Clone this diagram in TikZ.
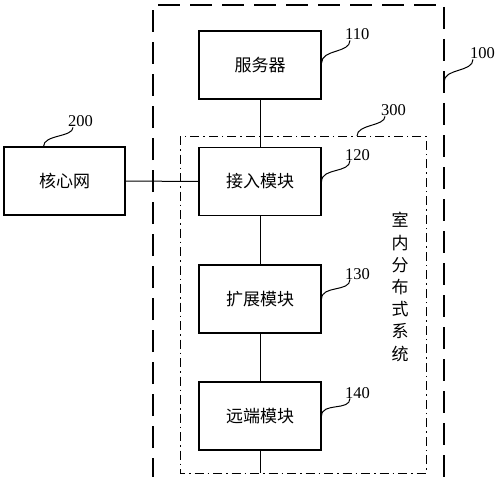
\documentclass[tikz,border=0pt]{standalone}
\usepackage{fontspec}
\setmainfont{Liberation Serif}
\newfontfamily\cjk{Noto Sans CJK SC}
\usetikzlibrary{positioning}

\begin{document}
\begin{tikzpicture}[x=1pt, y=-1pt,
        block/.style={draw, line width=1.1pt, minimum width=122pt, minimum height=68pt,
            inner sep=0pt, font=\cjk\fontsize{17}{20}\selectfont},
        outerbox/.style={line width=1.1pt, dash pattern=on 22pt off 10pt},
        innerbox/.style={line width=1pt, dash pattern=on 9pt off 4pt on 1.5pt off 4pt},
        link/.style={line width=1pt},
        leader/.style={line width=1pt},
        num/.style={anchor=base west, inner sep=0pt, font=\fontsize{16.5}{18}\selectfont}
    ]
        \useasboundingbox (0,0) rectangle (500,476);

        % Frames 100 and 300
        \draw[outerbox] (153,480) -- (153,5) -- (444,5) -- (444,480);
        \draw[innerbox] (180,136) rectangle (426,473);
        \coordinate (tip100) at (444,82);
        \coordinate (tip300) at (357,136);
        \coordinate (bus) at (260,473);

        % Blocks
        \node[block] (server) at (260,65) {服务器};
        \node[block] (access) at (260,181.5) {接入模块};
        \node[block] (expand) at (260,299) {扩展模块};
        \node[block] (remote) at (260,416) {远端模块};
        \node[block, minimum width=121pt] (core) at (64.5,181) {核心网};

        \node[font=\cjk\fontsize{17}{22.2}\selectfont, align=center] (system) at (400,287)
            {室\\内\\分\\布\\式\\系\\统};

        % Links
        \draw[link] (server) -- (access);
        \draw[link] (access) -- (expand);
        \draw[link] (expand) -- (remote);
        \draw[link] (remote) -- (bus);
        \draw[link] (core) -- (access);

        % Reference numbers
        \node[num] (n100) at (470,59) {100};
        \node[num] (n110) at (345,40) {110};
        \node[num] (n120) at (345,160) {120};
        \node[num] (n130) at (345,279) {130};
        \node[num] (n140) at (345,398) {140};
        \node[num] (n200) at (68,127) {200};
        \node[num] (n300) at (381,116) {300};

        \draw[leader] (tip100) .. controls +(0,-14) and +(0,13) .. ([xshift=3pt]n100.south west);
        \draw[leader] ([yshift=2pt]server.east) .. controls +(0,-14) and +(0,13) .. ([xshift=5pt]n110.south west);
        \draw[leader] (access.east) .. controls +(0,-14) and +(0,13) .. ([xshift=5pt]n120.south west);
        \draw[leader] (expand.east) .. controls +(0,-14) and +(0,13) .. ([xshift=5pt]n130.south west);
        \draw[leader] (remote.east) .. controls +(0,-14) and +(0,13) .. ([xshift=5pt]n140.south west);
        \draw[leader] ([xshift=-21pt]core.north) .. controls +(0,-12) and +(0,10) .. ([xshift=5pt]n200.south west);
        \draw[leader] (tip300) .. controls +(0,-12) and +(0,10) .. ([xshift=4pt]n300.south west);
    \end{tikzpicture}
\end{document}
